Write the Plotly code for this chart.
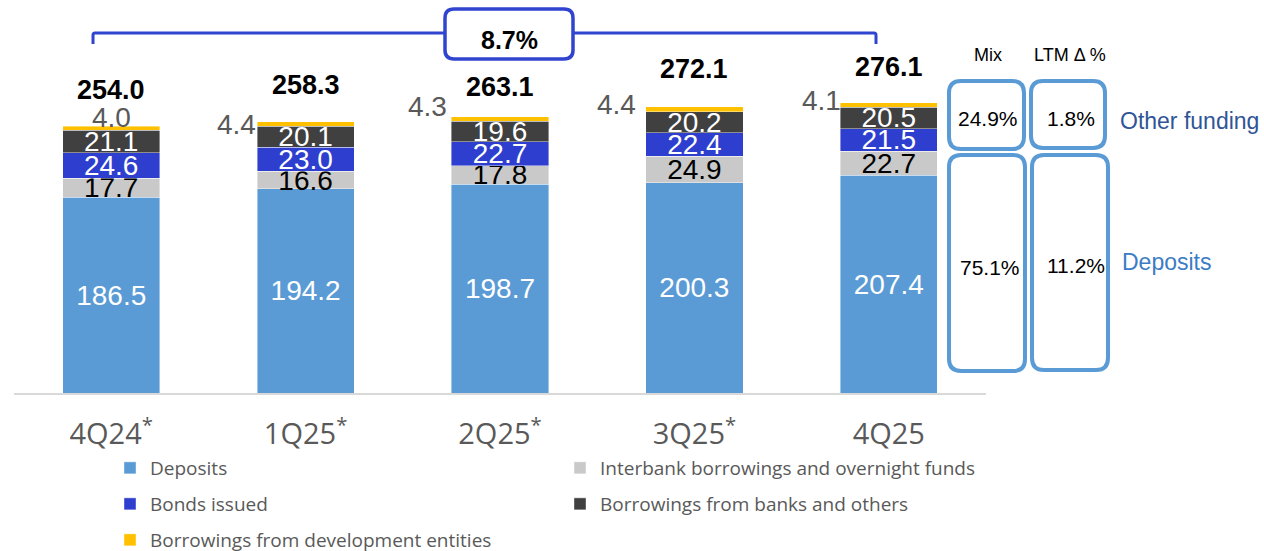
import plotly.graph_objects as go

# ---------------- data ----------------
categories = ["4Q24", "1Q25", "2Q25", "3Q25", "4Q25"]
tick_labels = ["4Q24<sup>*</sup>", "1Q25<sup>*</sup>", "2Q25<sup>*</sup>", "3Q25<sup>*</sup>", "4Q25"]
deposits = [186.5, 194.2, 198.7, 200.3, 207.4]
interbank = [17.7, 16.6, 17.8, 24.9, 22.7]
bonds = [24.6, 23.0, 22.7, 22.4, 21.5]
borrowings_banks = [21.1, 20.1, 19.6, 20.2, 20.5]
development = [4.0, 4.4, 4.3, 4.4, 4.1]
totals = [254.0, 258.3, 263.1, 272.1, 276.1]
growth_label = "8.7%"
mix_values = ["24.9%", "75.1%"]
ltm_values = ["1.8%", "11.2%"]
group_names = ["Other funding", "Deposits"]
series_names = ["Deposits", "Interbank borrowings and overnight funds", "Bonds issued",
                "Borrowings from banks and others", "Borrowings from development entities"]

# ---------------- style ----------------
W, H = 1264, 551
ML, MR, MT, MB = 14, 278, 0, 158
PW, PH = W - ML - MR, H - MT - MB
YMAX = 374.0
colors = ["#5B9BD5", "#C9C9C9", "#2E3FCF", "#404040", "#FFC000"]
text_colors = ["white", "black", "white", "white", "#595959"]
NUM_FONT = "Liberation Sans, Arial, sans-serif"
TXT_FONT = "Open Sans, Liberation Sans, sans-serif"
GREY = "#595959"
BLUE_LINE = "#3044D0"
BOX_BLUE = "#5B9BD5"

# pixel tweaks for labels (as placed in reference)
total_lift_px = [36, 37, 30, 38, 36]
dev_anchor = ["center", "right", "right", "right", "right"]
dev_dx_px = [0, 0, -3, -9, 2]
dev_dy_px = [-11, 1, -12, -5, -4]
# legend slots: (legend text left px, row centre px)
legend_slots = [(110, 468), (560, 468), (110, 504), (560, 504), (110, 540)]


def P(px, py):
    return f"{(px - ML) / PW:.5f},{(MT + PH - py) / PH:.5f}"


def px_x(px):
    return (px - ML) / PW


def px_y(py):
    return (MT + PH - py) / PH


def rrect(x0, y0, x1, y1, r):
    return (f"M{P(x0 + r, y0)} L{P(x1 - r, y0)} Q{P(x1, y0)} {P(x1, y0 + r)} "
            f"L{P(x1, y1 - r)} Q{P(x1, y1)} {P(x1 - r, y1)} L{P(x0 + r, y1)} "
            f"Q{P(x0, y1)} {P(x0, y1 - r)} L{P(x0, y0 + r)} Q{P(x0, y0)} {P(x0 + r, y0)} Z")


fig = go.Figure()
series = [deposits, interbank, bonds, borrowings_banks, development]
legend_ids = ["legend", "legend2", "legend3", "legend4", "legend5"]
for k, (name, vals) in enumerate(zip(series_names, series)):
    show_text = k < 4
    fig.add_trace(go.Bar(
        x=categories, y=vals, name=name,
        marker=dict(color=colors[k], line=dict(color="rgba(255,255,255,0.55)", width=0.75)),
        text=[f"{v:.1f}" for v in vals] if show_text else None,
        textposition="inside" if show_text else "none",
        insidetextanchor="middle", textangle=0, constraintext="none",
        textfont=dict(family=NUM_FONT, size=28, color=text_colors[k]),
        legend=legend_ids[k], hoverinfo="skip", cliponaxis=False,
    ))

annotations = []
# totals
for i, t in enumerate(totals):
    annotations.append(dict(x=i, y=t, xref="x", yref="y", text=f"<b>{t:.1f}</b>",
                            showarrow=False, xanchor="center", yanchor="middle",
                            yshift=total_lift_px[i],
                            font=dict(family=NUM_FONT, size=27, color="black")))
# development labels
for i, v in enumerate(development):
    stack_top = deposits[i] + interbank[i] + bonds[i] + borrowings_banks[i] + v
    xpos = i if dev_anchor[i] == "center" else i - 0.25
    annotations.append(dict(x=xpos, y=stack_top - v / 2, xref="x", yref="y", text=f"{v:.1f}",
                            showarrow=False, xanchor=dev_anchor[i], yanchor="middle",
                            xshift=dev_dx_px[i], yshift=-dev_dy_px[i], borderpad=0,
                            font=dict(family=NUM_FONT, size=28, color=GREY)))
# growth box text + right panel
panel = [
    dict(x=px_x(509), y=px_y(40), text=f"<b>{growth_label}</b>",
         font=dict(family=NUM_FONT, size=25, color="black")),
    dict(x=px_x(988), y=px_y(55), text="Mix", font=dict(family=NUM_FONT, size=18, color="black")),
    dict(x=px_x(1070), y=px_y(55), text="LTM Δ %", font=dict(family=NUM_FONT, size=18, color="black")),
    dict(x=px_x(988), y=px_y(118), text=mix_values[0], font=dict(family=NUM_FONT, size=21, color="black")),
    dict(x=px_x(1071), y=px_y(118), text=ltm_values[0], font=dict(family=NUM_FONT, size=21, color="black")),
    dict(x=px_x(990), y=px_y(267), text=mix_values[1], font=dict(family=NUM_FONT, size=21, color="black")),
    dict(x=px_x(1076), y=px_y(265), text=ltm_values[1], font=dict(family=NUM_FONT, size=21, color="black")),
    dict(x=px_x(1118), y=px_y(121), text=group_names[0], xanchor="left",
         font=dict(family=NUM_FONT, size=23, color="#2F5597")),
    dict(x=px_x(1120), y=px_y(262), text=group_names[1], xanchor="left",
         font=dict(family=NUM_FONT, size=23, color="#3B7CC4")),
]
for a in panel:
    a.setdefault("xanchor", "center")
    a.update(xref="paper", yref="paper", showarrow=False, yanchor="middle")
annotations += panel

shapes = [
    dict(type="path", xref="paper", yref="paper", layer="above",
         path=f"M{P(93, 44)} L{P(93, 35)} Q{P(93, 33)} {P(95, 33)} L{P(874, 33)} "
              f"Q{P(876, 33)} {P(876, 35)} L{P(876, 44)}",
         line=dict(color=BLUE_LINE, width=3)),
    dict(type="path", xref="paper", yref="paper", layer="above",
         path=rrect(445, 9, 573, 59, 9), fillcolor="white",
         line=dict(color=BLUE_LINE, width=3.5)),
    dict(type="path", xref="paper", yref="paper", layer="above",
         path=rrect(949, 81, 1024, 149, 12), line=dict(color=BOX_BLUE, width=4)),
    dict(type="path", xref="paper", yref="paper", layer="above",
         path=rrect(1031, 81, 1105, 148, 12), line=dict(color=BOX_BLUE, width=4)),
    dict(type="path", xref="paper", yref="paper", layer="above",
         path=rrect(949, 155, 1025, 371, 12), line=dict(color=BOX_BLUE, width=4)),
    dict(type="path", xref="paper", yref="paper", layer="above",
         path=rrect(1032, 155, 1108, 370, 12), line=dict(color=BOX_BLUE, width=4)),
]

legends = {}
for lid, (lx, ly) in zip(legend_ids, legend_slots):
    legends[lid] = dict(orientation="h", xanchor="left", yanchor="middle",
                        x=px_x(lx), y=px_y(ly),
                        bgcolor="rgba(0,0,0,0)", font=dict(family=TXT_FONT, size=19, color=GREY),
                        itemclick=False, itemdoubleclick=False)

fig.update_layout(
    width=W, height=H, autosize=False,
    margin=dict(l=ML, r=MR, t=MT, b=MB, pad=0, autoexpand=False),
    paper_bgcolor="white", plot_bgcolor="white",
    barmode="stack", bargap=0.5,
    showlegend=True,
    **legends,
    xaxis=dict(range=[-0.5, 4.5], tickmode="array", tickvals=categories, ticktext=tick_labels,
               showline=True, linecolor="#D9D9D9", linewidth=2, showgrid=False, zeroline=False,
               ticks="outside", ticklen=14, tickcolor="rgba(0,0,0,0)",
               tickfont=dict(family=TXT_FONT, size=29, color=GREY), fixedrange=True,
               automargin=False),
    yaxis=dict(range=[0, YMAX], visible=False, fixedrange=True),
    annotations=annotations, shapes=shapes,
    hovermode=False,
)

fig.write_html("out.html", config={"displayModeBar": False},
               post_script="document.body.style.margin='0';")
